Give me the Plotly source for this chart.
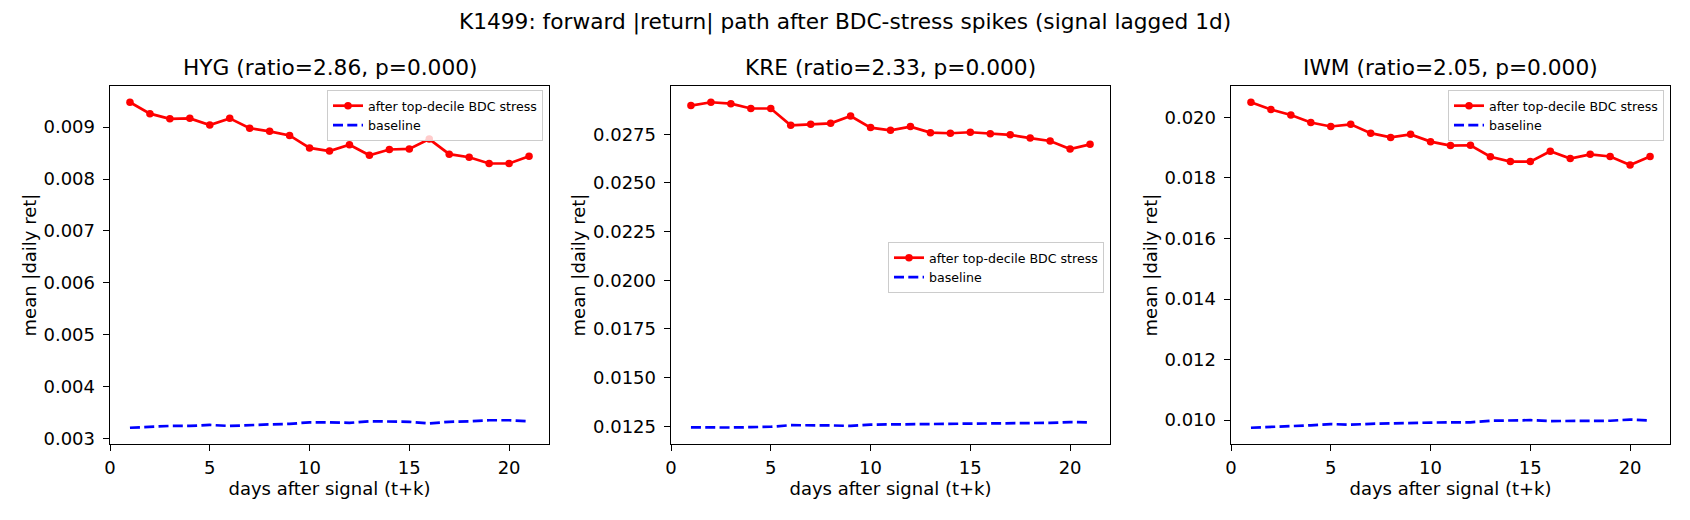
import plotly.graph_objects as go

W, H = 1690, 520

days = list(range(1, 22))

tickers = ["HYG", "KRE", "IWM"]
ratios = ["2.86", "2.33", "2.05"]
pvals = ["0.000", "0.000", "0.000"]

hyg_stress = [0.00948, 0.00926, 0.00916, 0.00917, 0.00904, 0.00917, 0.00898, 0.00892,
              0.00884, 0.00860, 0.00854, 0.00866, 0.00846, 0.00857, 0.00858, 0.00877,
              0.00848, 0.00842, 0.00830, 0.00830, 0.00844]
hyg_base = [0.003206, 0.00323, 0.00324, 0.00324, 0.00326, 0.00324, 0.00326, 0.00327,
            0.00328, 0.00331, 0.00331, 0.00330, 0.00333, 0.00332, 0.00332, 0.00329,
            0.00332, 0.00333, 0.00335, 0.00335, 0.00333]

kre_stress = [0.02897, 0.02914, 0.02907, 0.02882, 0.02882, 0.02796, 0.02801, 0.02806,
              0.02843, 0.02784, 0.02770, 0.02789, 0.02758, 0.02755, 0.02760, 0.02752,
              0.02747, 0.02730, 0.02715, 0.02674, 0.02698]
kre_base = [0.01245, 0.01243, 0.01244, 0.01246, 0.01248, 0.01256, 0.01256, 0.01255,
            0.01252, 0.01259, 0.01260, 0.01261, 0.01263, 0.01263, 0.01263, 0.01264,
            0.01265, 0.01266, 0.01268, 0.01272, 0.01270]

iwm_stress = [0.02050, 0.02026, 0.02008, 0.01983, 0.01970, 0.01977, 0.01948, 0.01934,
              0.01944, 0.01920, 0.01907, 0.01908, 0.01870, 0.01854, 0.01854, 0.01888,
              0.01864, 0.01878, 0.01871, 0.01843, 0.01871]
iwm_base = [0.00975, 0.00977, 0.00980, 0.00983, 0.00987, 0.00985, 0.00988, 0.00990,
            0.00990, 0.00992, 0.00993, 0.00993, 0.00998, 0.01000, 0.01000, 0.00997,
            0.00998, 0.00997, 0.00998, 0.01002, 0.00999]

stress_series = [hyg_stress, kre_stress, iwm_stress]
base_series = [hyg_base, kre_base, iwm_base]

x_ticks = [0, 5, 10, 15, 20]
y_ticks = [
    [0.003, 0.004, 0.005, 0.006, 0.007, 0.008, 0.009],
    [0.0125, 0.0150, 0.0175, 0.0200, 0.0225, 0.0250, 0.0275, 0.0300],
    [0.010, 0.012, 0.014, 0.016, 0.018, 0.020],
]
y_fmt = [".3f", ".4f", ".3f"]

title = "K1499: forward |return| path after BDC-stress spikes (signal lagged 1d)"
stress_label = "after top-decile BDC stress"
base_label = "baseline"
x_title = "days after signal (t+k)"
y_title = "mean |daily ret|"

FONT = "DejaVu Sans"
TICK_PX = 18
TITLE_PX = 21.7
LEG_PX = 12.6

# layout in pixels
ax_left = [110, 671, 1231]
ax_w = 439
ax_top, ax_bot = 86, 444

# legend placement (pixels): (x, y, xanchor, yanchor)
leg_pos = [(543, 90, "right", "top"), (1104, 242, "right", "top"), (1664, 90, "right", "top")]

fig = go.Figure()
layout = dict(
    width=W, height=H,
    margin=dict(l=0, r=0, t=0, b=0, autoexpand=False),
    paper_bgcolor="white", plot_bgcolor="white",
    font=dict(family=FONT, color="black", size=TICK_PX),
    annotations=[],
)

for i in range(3):
    xa = "x" if i == 0 else f"x{i+1}"
    ya = "y" if i == 0 else f"y{i+1}"
    leg = "legend" if i == 0 else f"legend{i+1}"
    fig.add_trace(go.Scatter(
        x=days, y=stress_series[i], mode="lines+markers", name=stress_label,
        line=dict(color="red", width=2.7), marker=dict(color="red", size=7.5),
        xaxis=xa, yaxis=ya, legend=leg,
    ))
    fig.add_trace(go.Scatter(
        x=days, y=base_series[i], mode="lines", name=base_label,
        line=dict(color="blue", width=2.7, dash="10px,4.3px"),
        xaxis=xa, yaxis=ya, legend=leg,
    ))

    allv = stress_series[i] + base_series[i]
    lo, hi = min(allv), max(allv)
    pad = 0.05 * (hi - lo)
    xlo, xhi = min(days), max(days)
    xpad = 0.05 * (xhi - xlo)

    x0 = ax_left[i] / W
    x1 = (ax_left[i] + ax_w) / W
    y0 = 1 - ax_bot / H
    y1 = 1 - ax_top / H

    axis_common = dict(
        showline=True, linecolor="black", linewidth=1.2, mirror=True,
        ticks="outside", ticklen=6.3, tickwidth=1.2, tickcolor="black",
        showgrid=False, zeroline=False, automargin=False,
        tickfont=dict(family=FONT, size=TICK_PX, color="black"),
    )
    layout[f"xaxis{'' if i == 0 else i+1}"] = dict(
        domain=[x0, x1], anchor=ya, range=[xlo - xpad, xhi + xpad],
        tickvals=x_ticks, ticklabelstandoff=1,
        title=dict(text=x_title, font=dict(family=FONT, size=TICK_PX), standoff=4),
        **axis_common,
    )
    layout[f"yaxis{'' if i == 0 else i+1}"] = dict(
        domain=[y0, y1], anchor=xa, range=[lo - pad, hi + pad],
        tickvals=y_ticks[i], tickformat=y_fmt[i], ticklabelstandoff=4,
        title=dict(text=y_title, font=dict(family=FONT, size=TICK_PX), standoff=2),
        **axis_common,
    )

    lx, ly, xan, yan = leg_pos[i]
    layout[leg] = dict(
        x=lx / W, y=1 - ly / H, xanchor=xan, yanchor=yan,
        xref="paper", yref="paper",
        bgcolor="rgba(255,255,255,0.8)", bordercolor="#cccccc", borderwidth=1,
        font=dict(family=FONT, size=LEG_PX, color="black"),
        tracegroupgap=0, itemwidth=30,
    )

    layout["annotations"].append(dict(
        text=f"{tickers[i]} (ratio={ratios[i]}, p={pvals[i]})",
        x=(ax_left[i] + ax_w / 2) / W, y=1 - (ax_top - 4) / H,
        xref="paper", yref="paper", xanchor="center", yanchor="bottom",
        showarrow=False, font=dict(family=FONT, size=TITLE_PX, color="black"),
    ))

layout["annotations"].append(dict(
    text=title, x=0.5, y=1 - 22 / H, xref="paper", yref="paper",
    xanchor="center", yanchor="middle", showarrow=False,
    font=dict(family=FONT, size=TITLE_PX, color="black"),
))

fig.update_layout(**layout)
fig.write_html("out.html")
